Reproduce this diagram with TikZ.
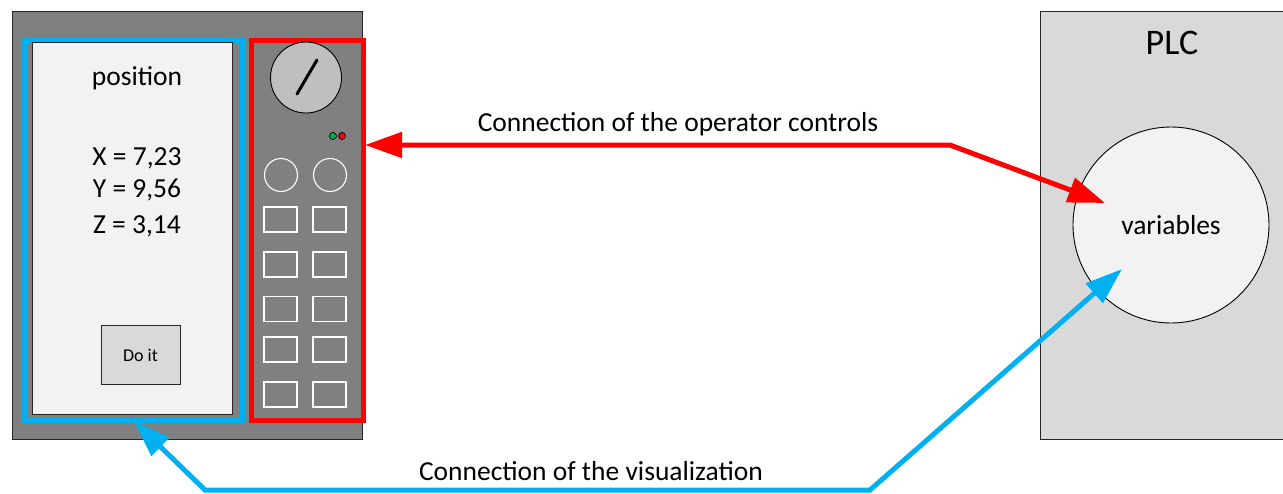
\documentclass[tikz,border=0pt]{standalone}
\usepackage{fontspec}
\setmainfont{Carlito}
\usetikzlibrary{arrows.meta,calc}
\definecolor{devgray}{HTML}{808080}
\definecolor{scr}{HTML}{F2F2F2}
\definecolor{knobc}{HTML}{BFBFBF}
\definecolor{btn}{HTML}{D9D9D9}
\definecolor{vblue}{HTML}{00B0F0}
\definecolor{ledg}{HTML}{00B050}
\tikzset{
  box/.style={draw=black!85, line width=0.9pt, inner sep=0pt, anchor=north west},
  frame/.style={inner sep=0pt, anchor=north west, line width=5pt},
  wcirc/.style={circle, draw=white, line width=1.1pt, inner sep=0pt, minimum size=33pt},
  wrect/.style={rectangle, draw=white, line width=1.1pt, inner sep=0pt, minimum width=33pt, minimum height=25pt},
  led/.style={circle, draw=black, line width=0.7pt, inner sep=0pt, minimum size=7pt},
  txt/.style={font=\fontsize{27.5}{32}\selectfont, inner sep=0pt},
  conn/.style={line width=5pt, line join=miter},
}
\begin{document}
\begin{tikzpicture}[x=1pt, y=-1pt]
\useasboundingbox (0,0) rectangle (1283,493);
% device
\node[box, fill=devgray, minimum width=350pt, minimum height=428pt] (dev) at (12,11) {};
\node[frame, draw=vblue, minimum width=218pt, minimum height=380.5pt] (vis) at (22,37.5) {};
\node[box, fill=scr, minimum width=200pt, minimum height=372pt] (screen) at (32,42) {};
\node[frame, draw=red, minimum width=112pt, minimum height=380.5pt] (ctrl) at (249,37.5) {};
% screen contents
\node[txt] (pos) at (137,78) {position};
\node[txt] (xv) at (137,158) {X = 7,23};
\node[txt] (yv) at (137,190) {Y = 9,56};
\node[txt] (zv) at (137,226) {Z = 3,14};
\node[box, fill=btn, minimum width=79pt, minimum height=59pt] (doit) at (101,325) {};
\node[font=\fontsize{18}{21}\selectfont, inner sep=0pt] (doitt) at (140.5,355) {Do it};
% controls
\node[circle, draw=black, line width=0.9pt, fill=knobc, minimum size=71pt, inner sep=0pt] (knob) at (306,77.5) {};
\draw[line width=3pt, line cap=round] (317,60) -- (297,94);
\node[led, fill=ledg] (l1) at (333,136) {};
\node[led, fill=red] (l2) at (342,136) {};
\node[wcirc] (c1) at (281,175) {};
\node[wcirc] (c2) at (330,175) {};
\foreach \y [count=\i] in {219.5,264.5,309,349.5,394.5} {
  \node[wrect] (ra\i) at (280.5,\y) {};
  \node[wrect] (rb\i) at (329.5,\y) {};
}
% PLC
\node[box, fill=btn, minimum width=250pt, minimum height=428pt] (plc) at (1040,11) {};
\node[font=\fontsize{36}{42}\selectfont, inner sep=0pt] (plct) at (1172,43) {PLC};
\node[circle, draw=black, line width=0.9pt, fill=scr, minimum size=196pt, inner sep=0pt] (vars) at (1171,225) {};
\node[txt] (varst) at (1171,225) {variables};
% connectors
\coordinate (rs) at (365,145);
\coordinate (rb) at (950,145);
\coordinate (rt) at (1105,203);
\draw[conn, red, {Triangle[length=37pt, width=25pt]}-{Triangle[length=37pt, width=25pt]}] (rs) -- (rb) -- (rt);
\coordinate (bs) at (134,421);
\coordinate (b2) at (205,490);
\coordinate (b1) at (870,490);
\coordinate (bt) at (1122,269);
\draw[conn, vblue, {Triangle[length=37pt, width=25pt]}-{Triangle[length=37pt, width=25pt]}] (bs) -- (b2) -- (b1) -- (bt);
\node[txt] (l1t) at (678,124) {Connection of the operator controls};
\node[txt] (l2t) at (591,471) {Connection of the visualization};
\end{tikzpicture}
\end{document}
